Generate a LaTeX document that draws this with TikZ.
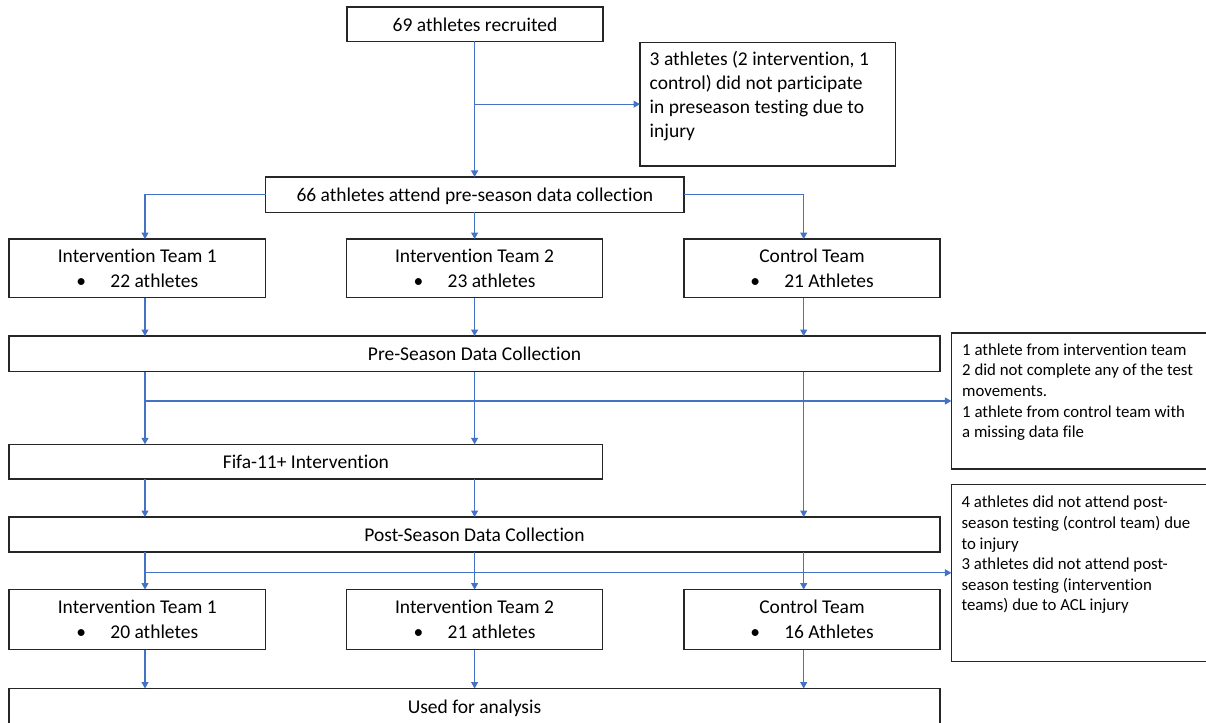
\documentclass[tikz,border=0pt]{standalone}
\usepackage{fontspec}
\setmainfont{Carlito}[Ligatures={NoCommon}]
\usetikzlibrary{arrows.meta}
\definecolor{lnblue}{RGB}{68,114,196}
\definecolor{bord}{RGB}{38,38,38}
\begin{document}
\begin{tikzpicture}[x=1pt,y=-1pt,
  box/.style={draw=bord, line width=1.1pt, inner sep=0pt, outer sep=0pt, font=\fontsize{19.5}{24}\selectfont},
  onebox/.style={box, text height=14pt, text depth=0pt},
  twobox/.style={box, align=center, font=\fontsize{19.5}{25}\selectfont},
  sidebox/.style={draw=bord, line width=1.1pt, inner sep=0pt, outer sep=0pt},
  bigtxt/.style={anchor=north west, inner sep=0pt, align=left, font=\fontsize{19.5}{24}\selectfont},
  smalltxt/.style={anchor=north west, inner sep=0pt, align=left, font=\fontsize{16.8}{20.6}\selectfont},
  arr/.style={draw=lnblue, line width=1.1pt, -{Triangle[length=6.5pt,width=7pt]}}]
\useasboundingbox (0,0) rectangle (1206,722);
\clip (0,0) rectangle (1206,722);
\fill[white] (0,0) rectangle (1206,722);

% columns
\coordinate (c1) at (145,0);
\coordinate (c2) at (474.6,0);
\coordinate (c3) at (803.7,0);

% boxes
\node[onebox, minimum width=256pt, minimum height=34.3pt] (a) at (475,24.15) {69 athletes recruited};
\node[sidebox, minimum width=255.7pt, minimum height=123.7pt] (b) at (767.85,104.15) {};
\node[bigtxt] (btx) at (649.5,51.5) {\rule{0pt}{14pt}3 athletes (2 intervention, 1\\control) did not participate\\in preseason testing due to\\injury};
\node[onebox, minimum width=418.4pt, minimum height=35.3pt] (c) at (474.8,194.65) {66 athletes attend pre-season data collection};

\node[twobox, minimum width=256.6pt, minimum height=58.7pt] (d1) at (137.3,268.35) {Intervention Team 1\\\makebox[34pt][l]{•}22 athletes};
\node[twobox, minimum width=256.3pt, minimum height=58.7pt] (d2) at (474.55,268.35) {Intervention Team 2\\\makebox[34pt][l]{•}23 athletes};
\node[twobox, minimum width=256pt, minimum height=58.7pt] (d3) at (812,268.35) {Control Team\\\makebox[34pt][l]{•}21 Athletes};

\node[onebox, minimum width=931pt, minimum height=35.7pt] (e) at (474.5,353.85) {Pre-Season Data Collection};
\node[sidebox, minimum width=278.6pt, minimum height=136pt] (f) at (1090.7,401) {};
\node[smalltxt] (ftx) at (962,343) {\rule{0pt}{12pt}1 athlete from intervention team\\2 did not complete any of the test\\movements.\\1 athlete from control team with\\a missing data file};

\node[onebox, minimum width=593.7pt, minimum height=34.7pt] (g) at (305.85,461.65) {Fifa-11+ Intervention};
\node[onebox, minimum width=931pt, minimum height=35pt] (h) at (474.5,534.5) {Post-Season Data Collection};
\node[sidebox, minimum width=278.6pt, minimum height=177pt] (i) at (1090.7,572.8) {};
\node[smalltxt] (itx) at (961.4,495.7) {\rule{0pt}{12pt}4 athletes did not attend post-\\season testing (control team) due\\to injury\\3 athletes did not attend post-\\season testing (intervention\\teams) due to ACL injury};

\node[twobox, minimum width=256.6pt, minimum height=60pt] (j1) at (137.3,619.5) {Intervention Team 1\\\makebox[34pt][l]{•}20 athletes};
\node[twobox, minimum width=256.3pt, minimum height=60pt] (j2) at (474.55,619.5) {Intervention Team 2\\\makebox[34pt][l]{•}21 athletes};
\node[twobox, minimum width=256pt, minimum height=60pt] (j3) at (812,619.5) {Control Team\\\makebox[34pt][l]{•}16 Athletes};

\node[onebox, minimum width=931pt, minimum height=35pt] (k) at (474.5,706) {Used for analysis};

% connectors
\draw[arr] (a.south -| c2) -- (c.north -| c2);
\draw[arr] (c2 |- b.west) -- (b.west);
\draw[arr] (c.west) -| (d1.north -| c1);
\draw[arr] (c.south -| c2) -- (d2.north -| c2);
\draw[arr] (c.east) -| (d3.north -| c3);

\draw[arr] (d1.south -| c1) -- (e.north -| c1);
\draw[arr] (d2.south -| c2) -- (e.north -| c2);
\draw[arr] (d3.south -| c3) -- (e.north -| c3);

\draw[arr] (e.south -| c1) -- (g.north -| c1);
\draw[arr] (e.south -| c2) -- (g.north -| c2);
\draw[arr] (e.south -| c3) -- (h.north -| c3);
\draw[arr] (c1 |- f.west) -- (f.west);

\draw[arr] (g.south -| c1) -- (h.north -| c1);
\draw[arr] (g.south -| c2) -- (h.north -| c2);

\draw[arr] (h.south -| c1) -- (j1.north -| c1);
\draw[arr] (h.south -| c2) -- (j2.north -| c2);
\draw[arr] (h.south -| c3) -- (j3.north -| c3);
\draw[arr] (c1 |- i.west) -- (i.west);

\draw[arr] (j1.south -| c1) -- (k.north -| c1);
\draw[arr] (j2.south -| c2) -- (k.north -| c2);
\draw[arr] (j3.south -| c3) -- (k.north -| c3);
\end{tikzpicture}
\end{document}
